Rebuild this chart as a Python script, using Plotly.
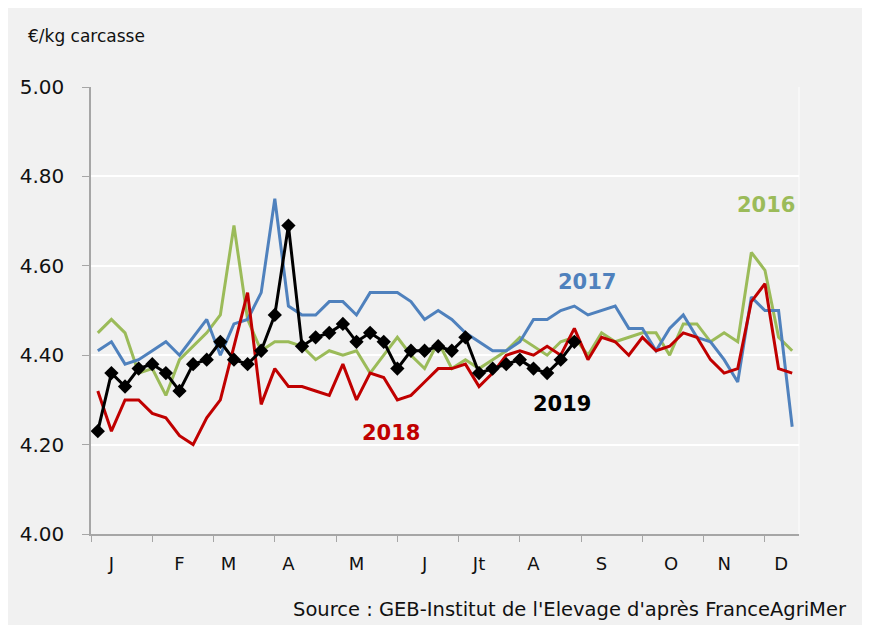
import plotly.graph_objects as go

weeks = list(range(1, 53))

y2016 = [4.45, 4.48, 4.45, 4.36, 4.37, 4.31, 4.39, 4.42, 4.45, 4.49,
         4.69, 4.48, 4.41, 4.43, 4.43, 4.42, 4.39, 4.41, 4.40, 4.41,
         4.36, 4.40, 4.44, 4.40, 4.37, 4.43, 4.37, 4.39, 4.37, 4.39,
         4.41, 4.44, 4.42, 4.40, 4.43, 4.44, 4.40, 4.45, 4.43, 4.44,
         4.45, 4.45, 4.40, 4.47, 4.47, 4.43, 4.45, 4.43, 4.63, 4.59,
         4.44, 4.41]
y2017 = [4.41, 4.43, 4.38, 4.39, 4.41, 4.43, 4.40, 4.44, 4.48, 4.40,
         4.47, 4.48, 4.54, 4.75, 4.51, 4.49, 4.49, 4.52, 4.52, 4.49,
         4.54, 4.54, 4.54, 4.52, 4.48, 4.50, 4.48, 4.45, 4.43, 4.41,
         4.41, 4.43, 4.48, 4.48, 4.50, 4.51, 4.49, 4.50, 4.51, 4.46,
         4.46, 4.41, 4.46, 4.49, 4.44, 4.43, 4.39, 4.34, 4.53, 4.50,
         4.50, 4.24]
y2018 = [4.32, 4.23, 4.30, 4.30, 4.27, 4.26, 4.22, 4.20, 4.26, 4.30,
         4.42, 4.54, 4.29, 4.37, 4.33, 4.33, 4.32, 4.31, 4.38, 4.30,
         4.36, 4.35, 4.30, 4.31, 4.34, 4.37, 4.37, 4.38, 4.33, 4.36,
         4.40, 4.41, 4.40, 4.42, 4.40, 4.46, 4.39, 4.44, 4.43, 4.40,
         4.44, 4.41, 4.42, 4.45, 4.44, 4.39, 4.36, 4.37, 4.52, 4.56,
         4.37, 4.36]
y2019 = [4.23, 4.36, 4.33, 4.37, 4.38, 4.36, 4.32, 4.38, 4.39, 4.43,
         4.39, 4.38, 4.41, 4.49, 4.69, 4.42, 4.44, 4.45, 4.47, 4.43,
         4.45, 4.43, 4.37, 4.41, 4.41, 4.42, 4.41, 4.44, 4.36, 4.37,
         4.38, 4.39, 4.37, 4.36, 4.39, 4.43]

month_labels = ["J", "F", "M", "A", "M", "J", "Jt", "A", "S", "O", "N", "D"]
month_label_weeks = [2, 7, 10.6, 15, 20, 25, 29, 33, 38, 43.1, 47, 51.2]
y_ticks = [4.0, 4.2, 4.4, 4.6, 4.8, 5.0]

GREEN = "#9bbb59"
BLUE = "#4f81bd"
RED = "#c00000"
BLACK = "#000000"
BG = "#f1f1f1"
FONT = "'DejaVu Sans', sans-serif"

fig = go.Figure()
fig.add_trace(go.Scatter(x=weeks, y=y2016, mode="lines", line=dict(color=GREEN, width=3), name="2016"))
fig.add_trace(go.Scatter(x=weeks, y=y2017, mode="lines", line=dict(color=BLUE, width=3), name="2017"))
fig.add_trace(go.Scatter(x=weeks, y=y2018, mode="lines", line=dict(color=RED, width=3), name="2018"))
fig.add_trace(go.Scatter(x=weeks[:len(y2019)], y=y2019, mode="lines+markers",
                         line=dict(color=BLACK, width=3),
                         marker=dict(symbol="diamond", size=11, color=BLACK),
                         name="2019"))

# The page body has an 8px margin; figure coords = screen coords - 8.
W, H = 878, 625
L, T = 81, 79          # plot area left/top in figure px
PR, PB = 791, 526      # plot area right/bottom in figure px
R, B = W - PR, H - PB
PW, PH = PR - L, PB - T

def px_to_paper_x(px):
    return (px - L) / PW

def px_to_paper_y(py):
    return (PB - py) / PH

shapes = [
    dict(type="line", xref="paper", yref="paper", layer="below",
         x0=1, x1=1, y0=0, y1=1, line=dict(color="#f9f9f9", width=1.5)),
]

annotations = [
    dict(text="2016", x=50.06, y=4.736, xref="x", yref="y", showarrow=False,
         font=dict(family=FONT, size=21, color=GREEN, weight="bold")),
    dict(text="2017", x=36.9, y=4.563, xref="x", yref="y", showarrow=False,
         font=dict(family=FONT, size=21, color=BLUE, weight="bold")),
    dict(text="2018", x=22.5, y=4.227, xref="x", yref="y", showarrow=False,
         font=dict(family=FONT, size=21, color=RED, weight="bold")),
    dict(text="2019", x=35.08, y=4.29, xref="x", yref="y", showarrow=False,
         font=dict(family=FONT, size=21, color=BLACK, weight="bold")),
    dict(text="€/kg carcasse", x=px_to_paper_x(16), y=px_to_paper_y(28),
         xref="paper", yref="paper", xanchor="left", yanchor="middle", showarrow=False,
         font=dict(family=FONT, size=17, color="#111111")),
    dict(text="Source : GEB-Institut de l'Elevage d'après FranceAgriMer",
         x=px_to_paper_x(841), y=px_to_paper_y(601),
         xref="paper", yref="paper", xanchor="right", yanchor="middle", showarrow=False,
         font=dict(family=FONT, size=19.5, color="#111111")),
]

fig.update_layout(
    width=W, height=H,
    margin=dict(l=L, r=R, t=T, b=B),
    paper_bgcolor=BG,
    plot_bgcolor=BG,
    showlegend=False,
    shapes=shapes,
    annotations=annotations,
    font=dict(family=FONT, color="#111111"),
    xaxis=dict(
        range=[0.5, 52.5],
        tickmode="array", tickvals=month_label_weeks, ticktext=month_labels,
        ticks="", showgrid=False, zeroline=False,
        showline=True, linecolor="#a6a6a6", linewidth=1.5,
        tickfont=dict(family=FONT, size=18, color="#111111"),
        ticklabelstandoff=13,
        minor=dict(tick0=0.5, dtick=4.5, ticks="outside", ticklen=6,
                   tickcolor="#a6a6a6", tickwidth=1, showgrid=False),
    ),
    yaxis=dict(
        range=[4.0, 5.0],
        tickmode="array", tickvals=y_ticks, ticktext=[f"{v:.2f}" for v in y_ticks],
        ticks="outside", ticklen=7, tickcolor="#a6a6a6",
        showgrid=True, gridcolor="#ffffff", gridwidth=1.5,
        zeroline=False, showline=True, linecolor="#a6a6a6", linewidth=1.5,
        tickfont=dict(family=FONT, size=20, color="#111111"),
        ticklabelstandoff=14,
    ),
)

fig.write_html(
    "out.html",
    post_script="document.documentElement.style.overflow='hidden';"
                "document.body.style.overflow='hidden';",
)
